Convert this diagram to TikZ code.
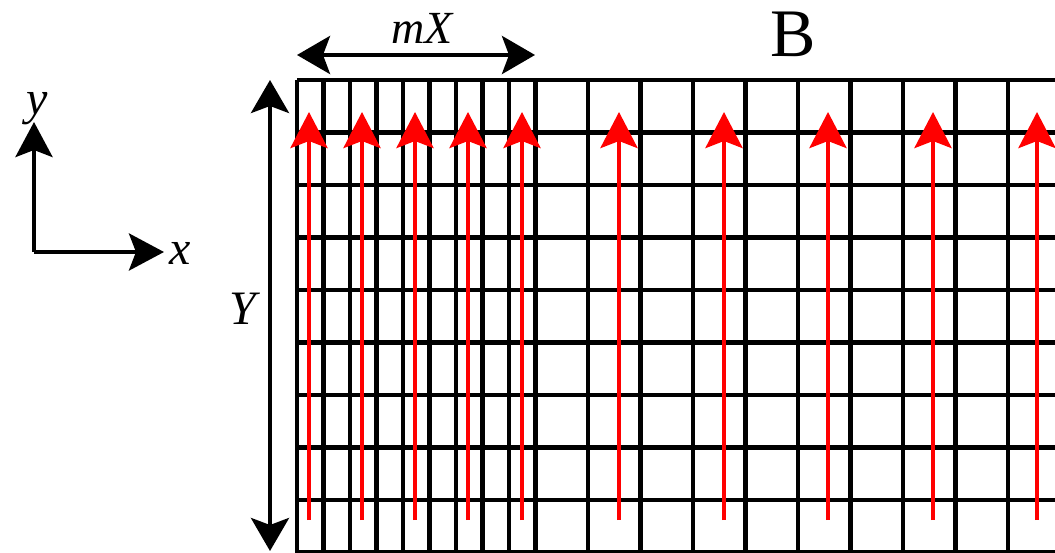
\documentclass[tikz,border=0pt]{standalone}
\usepackage{fontspec}
\setmainfont{Liberation Serif}
\usetikzlibrary{arrows.meta}
\tikzset{
  gridline/.style={line width=4.3pt, black},
  flow/.style={line width=4.5pt, red, -{Stealth[length=36pt, width=37pt, inset=7pt]}},
  axis/.style={line width=4.3pt, black, -{Stealth[length=35pt, width=37pt, inset=7pt]}},
  dim/.style={line width=4.3pt, black, {Stealth[length=33pt, width=38pt, inset=7pt]}-{Stealth[length=33pt, width=38pt, inset=7pt]}},
  lbl/.style={inner sep=0pt, anchor=base, font=\fontsize{48}{50}\selectfont\itshape},
}
\begin{document}
\begin{tikzpicture}[x=1pt, y=-1pt]
\useasboundingbox (0,0) rectangle (1055,553);
% grid
\foreach \k in {0,...,9} {
  \draw[gridline] (297,{80+52.5*\k}) -- (1057,{80+52.5*\k});
}
\foreach \k in {0,...,9} {
  \draw[gridline] ({297+26.5*\k},80) -- ({297+26.5*\k},556);
}
\foreach \k in {1,...,9} {
  \draw[gridline] ({535.5+52.5*\k},80) -- ({535.5+52.5*\k},556);
}
% red flow arrows
\foreach \xx in {309,362,415,468,522,619,724,828,933,1037} {
  \coordinate (b\xx) at (\xx,520);
  \coordinate (t\xx) at (\xx,112);
  \draw[flow] (b\xx) -- (t\xx);
}
% axes
\coordinate (o) at (34,252);
\coordinate (ay) at (34,122);
\coordinate (ax) at (164,252);
\draw[axis] (o) -- (ay);
\draw[axis] (o) -- (ax);
\node[lbl] (xl) at (180,265) {x};
\node[lbl] (yl) at (37,115) {y};
% dimension arrows
\coordinate (ml) at (297,55);
\coordinate (mr) at (535,55);
\draw[dim] (ml) -- (mr);
\node[lbl, font=\fontsize{46}{48}\selectfont\itshape] (mx) at (422,44) {mX};
\coordinate (yt) at (270,80);
\coordinate (yb) at (270,551);
\draw[dim] (yt) -- (yb);
\node[lbl] (Yl) at (243,324) {Y};
\node[inner sep=0pt, anchor=base, font=\fontsize{68}{70}\selectfont] (B) at (793,57) {B};
\end{tikzpicture}
\end{document}
